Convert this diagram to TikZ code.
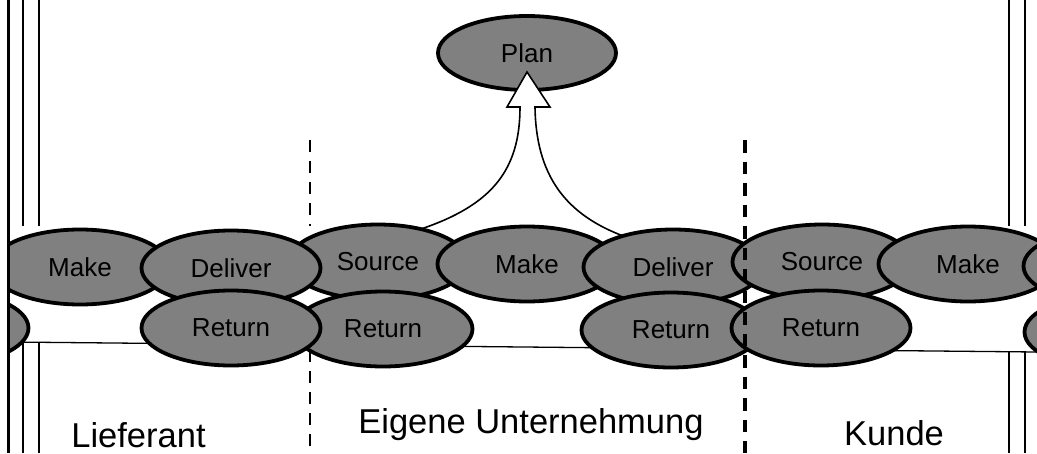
\documentclass[tikz,border=0pt]{standalone}
\usepackage{fontspec}
\setmainfont{Liberation Sans}
\usetikzlibrary{shapes.geometric}
\definecolor{procgray}{HTML}{808080}
\tikzset{
  proc/.style={ellipse, draw=black, line width=3.8pt, fill=procgray, minimum width=179pt, minimum height=75pt, inner sep=0pt, font=\fontsize{26}{30}\selectfont},
  partlabel/.style={anchor=base, font=\fontsize{34.5}{40}\selectfont},
  edgeline/.style={line width=1.5pt},
  bigarrow/.style={draw=black, fill=white, line width=1.6pt, line join=miter}
}
\begin{document}
\begin{tikzpicture}[x=1pt,y=-1pt]
\useasboundingbox (0,0) rectangle (1037,453);
\fill[white] (0,0) rectangle (1037,453);
% vertical boundary lines
\coordinate (l2t) at (23,0);  \coordinate (l2b) at (23,453);
\coordinate (l3t) at (39,0);  \coordinate (l3b) at (39,453);
\coordinate (r1t) at (1009,0); \coordinate (r1b) at (1009,453);
\coordinate (r2t) at (1025,0); \coordinate (r2b) at (1025,453);
\draw[edgeline] (l2t) -- (l2b);
\draw[edgeline] (l3t) -- (l3b);
\draw[edgeline] (r1t) -- (r1b);
\draw[edgeline] (r2t) -- (r2b);
\coordinate (d1t) at (310,140); \coordinate (d1b) at (310,453);
\draw[line width=1.5pt, dash pattern=on 12pt off 9pt] (d1t) -- (d1b);
\begin{scope}
\clip (10,0) rectangle (1037,453);
% white band
\fill[white] (10,226) -- (1037,226) -- (1037,352) -- (10,342) -- cycle;
\coordinate (bandL) at (10,342); \coordinate (bandR) at (1037,352);
\draw[line width=1.3pt] (bandL) -- (bandR);
% plan
\node[proc, minimum width=178pt, minimum height=74pt] (plan) at (527,53) {Plan};
% big arrow
\coordinate (aL) at (421,229);
\coordinate (sL) at (520,107);
\coordinate (hL) at (507,107);
\coordinate (tip) at (527,72);
\coordinate (hR) at (550,107);
\coordinate (sR) at (535,107);
\coordinate (aR) at (626,237);
\path[bigarrow] (aL) .. controls (492,205) and (520,170) .. (sL) -- (hL) -- (tip) -- (hR) -- (sR) .. controls (536,175) and (565,215) .. (aR);
% row 1
\node[proc] (makeL) at (80,267) {Make};
\node[proc] (srcM) at (378,262) {Source};
\node[proc] (delL) at (231,268) {Deliver};
\node[proc] (makeM) at (527,264) {Make};
\node[proc] (delM) at (673,267) {Deliver};
\node[proc] (srcR) at (822,262) {Source};
\node[proc] (makeR) at (968,264) {Make};
\node[proc] (restR1) at (1113,266) {};
% row 2
\node[proc] (restL2) at (-61,328) {};
\node[proc] (retM) at (383,329) {Return};
\node[proc] (retL) at (231,328) {Return};
\node[proc] (retMR) at (671,330) {Return};
\node[proc] (retR) at (821,328) {Return};
\node[proc] (restR2) at (1114,332) {};
\end{scope}
\coordinate (l1t) at (8.5,0); \coordinate (l1b) at (8.5,453);
\draw[line width=3pt] (l1t) -- (l1b);
\coordinate (d2t) at (745,140); \coordinate (d2b) at (745,453);
\draw[line width=3.6pt, dash pattern=on 12.5pt off 9pt] (d2t) -- (d2b);
% partner labels
\node[partlabel] (lief) at (138.5,447) {Lieferant};
\node[partlabel] (eigen) at (531,433) {Eigene Unternehmung};
\node[partlabel] (kunde) at (894,445) {Kunde};
\end{tikzpicture}
\end{document}
